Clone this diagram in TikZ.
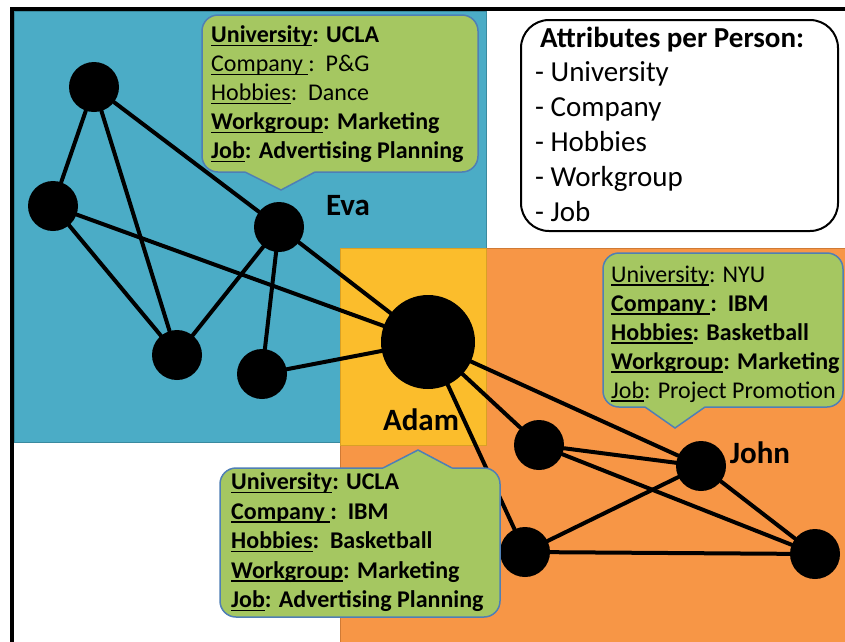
\documentclass[tikz,border=0pt]{standalone}
\usepackage{fontspec}
\setmainfont{Carlito}
\newsavebox\ulbox
\newcommand\ulx[1]{\sbox\ulbox{#1}\rlap{\rule[-3.6pt]{\wd\ulbox}{1.5pt}}\usebox\ulbox}
\definecolor{blueA}{HTML}{4BACC6}
\definecolor{blueB}{HTML}{3A8A9F}
\definecolor{orangeA}{HTML}{F79646}
\definecolor{orangeB}{HTML}{D07A35}
\definecolor{yellowA}{HTML}{FBBD2C}
\definecolor{yellowB}{HTML}{D9A026}
\definecolor{greenA}{HTML}{A5C761}
\definecolor{calloutB}{HTML}{4F7FB5}
\tikzset{
  person/.style={circle, fill=black, inner sep=0pt, minimum size=50pt},
  hub/.style={circle, fill=black, inner sep=0pt, minimum size=94pt},
  link/.style={line width=4pt, black, line cap=round},
  bubble/.style={fill=greenA, draw=calloutB, line width=1.5pt},
  ctext/.style={anchor=base west, inner sep=0pt, font=\fontsize{24}{29}\selectfont},
  atext/.style={anchor=base west, inner sep=0pt, font=\fontsize{29}{35}\selectfont},
  plabel/.style={anchor=base, inner sep=0pt, font=\fontsize{31}{36}\selectfont\bfseries},
}
\begin{document}
\begin{tikzpicture}[x=1pt,y=-1pt]
\useasboundingbox (0,0) rectangle (845,641);
\fill[white] (0,0) rectangle (845,641);
% regions
\draw[fill=blueA, draw=blueB, line width=1pt] (14,11) rectangle (486,442);
\draw[fill=orangeA, draw=orangeB, line width=1pt] (340,248) rectangle (850,650);
\draw[fill=yellowA, draw=yellowB, line width=1pt] (340,248) rectangle (486,445);
% frame
\draw[line width=4pt, line cap=rect] (12,645) -- (12,9) -- (850,9);
% nodes
\node[person] (a1) at (94,87) {};
\node[person] (a2) at (53,206) {};
\node[person] (eva) at (279,227) {};
\node[person] (a3) at (177,355) {};
\node[person] (a4) at (262,374) {};
\node[hub] (adam) at (428,342) {};
\node[person] (j1) at (539,445) {};
\node[person] (john) at (701,466) {};
\node[person] (j2) at (525,552) {};
\node[person] (j3) at (815,554) {};
% links
\draw[link] (a1) -- (a2);
\draw[link] (a1) -- (a3);
\draw[link] (a1) -- (eva);
\draw[link] (a2) -- (a3);
\draw[link] (a2) -- (adam);
\draw[link] (eva) -- (a3);
\draw[link] (eva) -- (a4);
\draw[link] (eva) -- (adam);
\draw[link] (a4) -- (adam);
\draw[link] (adam) -- (john);
\draw[link] (adam) -- (j1);
\draw[link] (adam) -- (j2);
\draw[link] (j1) -- (john);
\draw[link] (j1) -- (j3);
\draw[link] (john) -- (j2);
\draw[link] (john) -- (j3);
\draw[link] (j2) -- (j3);
% name labels
\node[plabel] (evalab) at (348,215) {Eva};
\node[plabel] (adamlab) at (421,430) {Adam};
\node[plabel] (johnlab) at (760,463) {John};
% Eva callout
\draw[bubble, rounded corners=16] (202,15) rectangle (478,172);
\fill[greenA] (245,172) -- (281,190) -- (315,172) -- (315,166) -- (245,166) -- cycle;
\draw[calloutB, line width=1.5pt] (245,172) -- (281,190) -- (315,172);
\node[ctext] (e1) at (211,42.5) {\textbf{\ulx{University}: UCLA}};
\node[ctext] (e2) at (211,71.5) {\ulx{Company\ }:\ \ P\&G};
\node[ctext] (e3) at (211,100.5) {\ulx{Hobbies}:\ \ Dance};
\node[ctext] (e4) at (211,129.5) {\textbf{\ulx{Workgroup}: Marketing}};
\node[ctext] (e5) at (211,158.5) {\textbf{\ulx{Job}: Advertising Planning}};
% John callout
\draw[bubble, rounded corners=16] (603,253) rectangle (843,407);
\fill[greenA] (645,407) -- (675,428) -- (705,407) -- (705,401) -- (645,401) -- cycle;
\draw[calloutB, line width=1.5pt] (645,407) -- (675,428) -- (705,407);
\node[ctext] (jt1) at (611,282) {\ulx{University}: NYU};
\node[ctext] (jt2) at (611,311) {\textbf{\ulx{Company\ }:\ \ IBM}};
\node[ctext] (jt3) at (611,340) {\textbf{\ulx{Hobbies}: Basketball}};
\node[ctext] (jt4) at (611,369) {\textbf{\ulx{Workgroup}: Marketing}};
\node[ctext] (jt5) at (611,398) {\ulx{Job}: Project Promotion};
% Adam callout
\draw[bubble, rounded corners=16] (220,468) rectangle (500,617);
\fill[greenA] (383,468) -- (418,450) -- (452,468) -- (452,474) -- (383,474) -- cycle;
\draw[calloutB, line width=1.5pt] (383,468) -- (418,450) -- (452,468);
\node[ctext] (d1) at (231,489.5) {\textbf{\ulx{University}: UCLA}};
\node[ctext] (d2) at (231,519) {\textbf{\ulx{Company\ }:\ \ IBM}};
\node[ctext] (d3) at (231,548.5) {\textbf{\ulx{Hobbies}:\ \ Basketball}};
\node[ctext] (d4) at (231,578) {\textbf{\ulx{Workgroup}: Marketing}};
\node[ctext] (d5) at (231,607.5) {\textbf{\ulx{Job}: Advertising Planning}};
% attributes box
\draw[fill=white, draw=black, line width=2pt, rounded corners=28] (521,20) rectangle (838,231);
\node[atext] (h0) at (540,47) {\textbf{Attributes per Person:}};
\node[atext] (h1) at (535,81) {- University};
\node[atext] (h2) at (535,116) {- Company};
\node[atext] (h3) at (535,151) {- Hobbies};
\node[atext] (h4) at (535,186) {- Workgroup};
\node[atext] (h5) at (535,221) {- Job};
\end{tikzpicture}
\end{document}
